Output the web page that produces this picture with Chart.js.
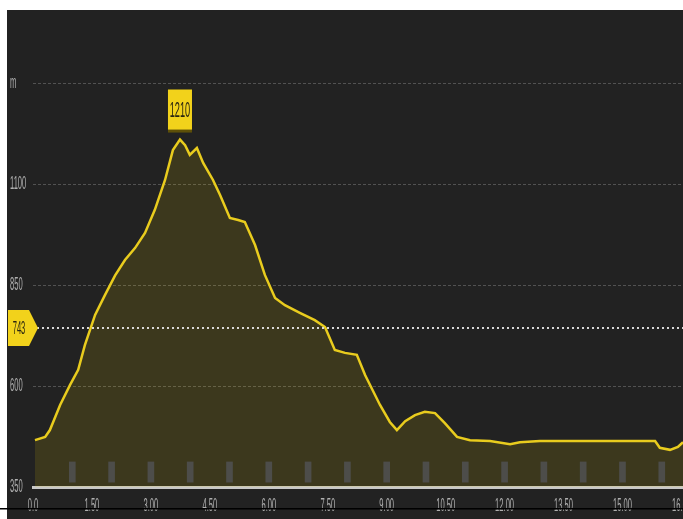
<!DOCTYPE html>
<html>
<head>
<meta charset="utf-8">
<style>
  html, body { margin: 0; padding: 0; background: #fff; }
  #wrap { width: 683px; height: 519px; }
</style>
<script src="https://cdn.jsdelivr.net/npm/chart.js@4/dist/chart.umd.min.js"></script>
</head>
<body>
<div id="wrap"><canvas id="profileChart" width="683" height="519"></canvas></div>
<script>
// distance (km) and elevation (m)
const distKm = [0.05, 0.31, 0.43, 0.69, 0.94, 1.15, 1.32, 1.58, 1.83, 2.09, 2.34, 2.60, 2.85, 3.10, 3.36, 3.56, 3.74, 3.87, 3.99, 4.17, 4.33, 4.58, 4.76, 5.01, 5.22, 5.39, 5.65, 5.90, 6.16, 6.41, 6.79, 7.17, 7.43, 7.68, 7.94, 8.24, 8.45, 8.83, 9.08, 9.26, 9.47, 9.72, 9.97, 10.23, 10.48, 10.79, 11.12, 11.63, 12.14, 12.39, 12.90, 13.92, 14.94, 15.83, 15.95, 16.21, 16.41, 16.54];
const elevM = [466, 474, 491, 553, 602, 640, 701, 776, 825, 874, 912, 942, 979, 1036, 1110, 1184, 1210, 1196, 1172, 1189, 1152, 1110, 1073, 1016, 1011, 1006, 949, 875, 818, 800, 781, 763, 746, 689, 682, 677, 627, 553, 511, 491, 513, 528, 536, 533, 508, 474, 466, 464, 456, 461, 464, 464, 464, 464, 447, 442, 449, 461];
const kmMarks = [1, 2, 3, 4, 5, 6, 7, 8, 9, 10, 11, 12, 13, 14, 15, 16];
const xTicks = [0, 1.5, 3, 4.5, 6, 7.5, 9, 10.5, 12, 13.5, 15, 16.5];
const yTicks = [350, 600, 850, 1100, 1350];
const peakElev = 1210;
const peakKm = 3.74;
const avgElev = 743;

const YELLOW = "#f2d21b";
const FAMILY = "'Liberation Sans', Arial, sans-serif";
const TEXT_SQUEEZE = 0.42;

const canvas = document.getElementById("profileChart");
const ctx = canvas.getContext("2d");

// the source labels are a very narrow face; squeeze every label horizontally
const nativeFillText = ctx.fillText;
ctx.fillText = function (text, x, y) {
  this.save();
  this.translate(x, y);
  this.scale(TEXT_SQUEEZE, 1);
  nativeFillText.call(this, text, 0, 0);
  this.restore();
};

const decorations = {
  id: "decorations",
  beforeDraw(chart) {
    const c = chart.ctx;
    c.save();
    c.fillStyle = "#222222";
    c.fillRect(7, 10, chart.width - 7, chart.height - 10);
    c.restore();
  },
  afterDatasetsDraw(chart) {
    const c = chart.ctx;
    const x = chart.scales.x, y = chart.scales.y;
    const area = chart.chartArea;
    c.save();

    // average line
    const ay = Math.round(y.getPixelForValue(avgElev));
    c.strokeStyle = "rgba(235,235,235,0.9)";
    c.lineWidth = 2;
    c.setLineDash([2, 3]);
    c.beginPath();
    c.moveTo(37, ay);
    c.lineTo(area.right, ay);
    c.stroke();
    c.setLineDash([]);

    // average tag
    c.fillStyle = YELLOW;
    c.beginPath();
    c.moveTo(8, ay - 18);
    c.lineTo(29, ay - 18);
    c.lineTo(38, ay);
    c.lineTo(29, ay + 18);
    c.lineTo(8, ay + 18);
    c.closePath();
    c.fill();
    c.fillStyle = "#2a2610";
    c.font = "18px " + FAMILY;
    c.textAlign = "center";
    c.textBaseline = "middle";
    c.fillText(String(avgElev), 19, ay + 1);

    // peak tag
    const px = x.getPixelForValue(peakKm);
    const py = y.getPixelForValue(peakElev);
    c.fillStyle = "#5e5008";
    c.fillRect(px - 12, py - 50, 24, 43);
    c.fillStyle = YELLOW;
    c.fillRect(px - 12, py - 50, 24, 40);
    c.fillStyle = "#2a2610";
    c.font = "22px " + FAMILY;
    c.fillText(String(peakElev), px, py - 29);

    // bottom rule
    c.fillStyle = "#000";
    c.fillRect(0, 508, chart.width, 1.5);
    c.restore();
  }
};

new Chart(ctx, {
  type: "line",
  data: {
    datasets: [{
      type: "bar",
      label: "km",
      data: kmMarks.map(k => ({ x: k, y: [362, 412] })),
      backgroundColor: "rgba(110,118,160,0.35)",
      barThickness: 6,
      order: 0
    }, {
      label: "Elevation",
      data: distKm.map((d, i) => ({ x: d, y: elevM[i] })),
      borderColor: "#e9cc1e",
      borderWidth: 2.5,
      backgroundColor: "rgba(240,208,0,0.13)",
      fill: "start",
      pointRadius: 0,
      tension: 0,
      order: 1
    }]
  },
  plugins: [decorations],
  options: {
    responsive: false,
    animation: false,
    layout: { padding: { left: 10, top: 83, right: 0, bottom: 0 } },
    plugins: {
      legend: { display: false },
      tooltip: { enabled: false }
    },
    scales: {
      x: {
        type: "linear",
        min: 0,
        max: 16.54,
        offset: false,
        afterBuildTicks: s => { s.ticks = xTicks.map(v => ({ value: v })); },
        afterFit: s => { s.height = 32; s.paddingLeft = 0; s.paddingRight = 0; },
        grid: { display: false, drawTicks: false, offset: false },
        border: { display: true, color: "#c8c8c8", width: 3 },
        ticks: {
          autoSkip: false,
          maxRotation: 0,
          padding: 8,
          color: "#b0b0b0",
          font: { family: FAMILY, size: 18 },
          callback: v => v === 0 ? "0.0" : v.toFixed(2)
        }
      },
      y: {
        min: 350,
        max: 1350,
        afterBuildTicks: s => { s.ticks = yTicks.map(v => ({ value: v })); },
        afterFit: s => { s.width = 23; },
        border: { display: false, dash: [3, 2] },
        grid: { color: "rgba(255,255,255,0.22)", drawTicks: false, lineWidth: 1 },
        ticks: {
          crossAlign: "far",
          padding: 0,
          color: "#b0b0b0",
          font: { family: FAMILY, size: 18 },
          callback: v => v === 1350 ? "m" : String(v)
        }
      }
    }
  }
});
</script>
</body>
</html>
